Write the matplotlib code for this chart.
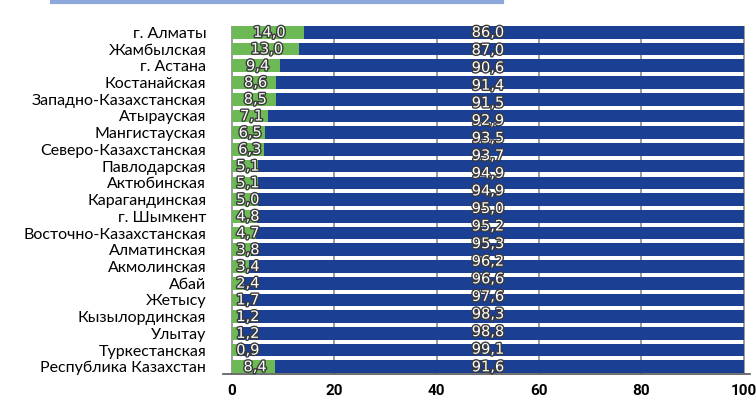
import matplotlib.pyplot as plt
import matplotlib.patheffects as pe
from matplotlib.lines import Line2D

# regions, top to bottom as in the chart
regions = ["г. Алматы", "Жамбылская", "г. Астана", "Костанайская",
           "Западно-Казахстанская", "Атырауская", "Мангистауская",
           "Северо-Казахстанская", "Павлодарская", "Актюбинская",
           "Карагандинская", "г. Шымкент", "Восточно-Казахстанская",
           "Алматинская", "Акмолинская", "Абай", "Жетысу",
           "Кызылординская", "Улытау", "Туркестанская",
           "Республика Казахстан"]
green_vals = [14.0, 13.0, 9.4, 8.6, 8.5, 7.1, 6.5, 6.3, 5.1, 5.1, 5.0,
              4.8, 4.7, 3.8, 3.4, 2.4, 1.7, 1.2, 1.2, 0.9, 8.4]
blue_vals = [86.0, 87.0, 90.6, 91.4, 91.5, 92.9, 93.5, 93.7, 94.9, 94.9,
             95.0, 95.2, 95.3, 96.2, 96.6, 97.6, 98.3, 98.8, 98.8, 99.1, 91.6]
# labels as printed on the blue part (the source shows only 20 of them,
# spread evenly over the rows)
blue_labels = ["86,0", "87,0", "90,6", "91,4", "91,5", "92,9", "93,5",
               "93,7", "94,9", "94,9", "95,0", "95,2", "95,3", "96,2",
               "96,6", "97,6", "98,3", "98,8", "99,1", "91,6"]
xticks = [0, 20, 40, 60, 80, 100]

green = '#6cb955'
blue = '#1b3f92'
font = 'Lato'

fig = plt.figure(figsize=(7.56, 4.0), dpi=100)
ax = fig.add_axes([223 / 756, 1 - 374 / 400, 527 / 756, 348 / 400])

n = len(regions)
ypos = list(range(n - 1, -1, -1))
h = 0.76

ax.barh(ypos, green_vals, height=h, color=green, zorder=2)
ax.barh(ypos, blue_vals, left=green_vals, height=h, color=blue, zorder=2)

stroke = [pe.withStroke(linewidth=2.0, foreground='#3a3a3a')]
for y, g in zip(ypos, green_vals):
    ax.text(max(g / 2 + 0.3, 3.1), y, f"{g:.1f}".replace('.', ','),
            ha='center', va='center', color='white', fontsize=10.5,
            fontfamily='DejaVu Sans', path_effects=stroke, zorder=3)

m = len(blue_labels)
for k, lab in enumerate(blue_labels):
    y = (n - 1) - k * (n - 1) / (m - 1)
    ax.text(50, y, lab, ha='center', va='center', color='white',
            fontsize=10.5, fontfamily='DejaVu Sans', path_effects=stroke,
            zorder=3)

ax.set_xlim(-1.76, 101.2)
ax.set_ylim(-h / 2 - 0.05, n - 1 + h / 2)
ax.set_yticks(ypos)
ax.set_yticklabels(regions, fontsize=11.5, fontfamily=font)
ax.set_xticks(xticks)
ax.set_xticklabels([str(t) for t in xticks], fontsize=11,
                   fontfamily='Roboto', fontweight='bold')
ax.tick_params(axis='y', length=0, pad=12)
ax.tick_params(axis='x', length=0, pad=7)

for s in ['top', 'right', 'left']:
    ax.spines[s].set_visible(False)
ax.spines['bottom'].set_color('#555555')
ax.spines['bottom'].set_linewidth(1.2)

for t in xticks:
    ax.axvline(t, color='#8a8a8a', linewidth=1.2, zorder=1)

# thin decorative line at the top edge
fig.add_artist(Line2D([52 / 756, 502 / 756], [0.995, 0.995],
                      color='#8ea7da', linewidth=3))

fig.savefig('out.png', dpi=100)
